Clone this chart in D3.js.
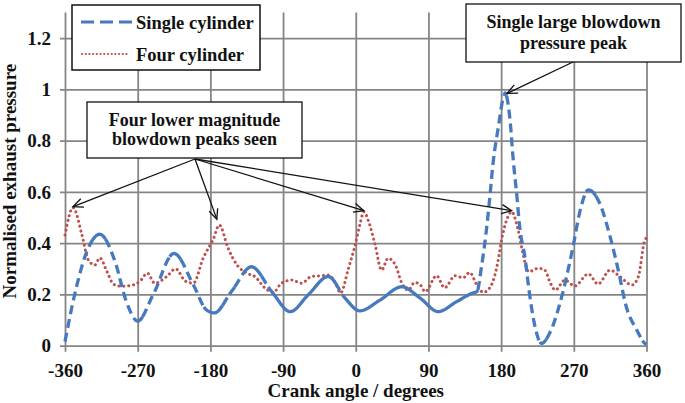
<!DOCTYPE html>
<html><head><meta charset="utf-8">
<script src="https://cdn.jsdelivr.net/npm/d3@7"></script>
<style>
html,body{margin:0;padding:0;background:#fff;}
svg text{font-family:"Liberation Serif","Times New Roman",serif;font-weight:bold;fill:#111;}
</style></head>
<body>
<svg id="chart" width="685" height="403"></svg>
<script>
// ---- data ----
const xTicks = [-360,-270,-180,-90,0,90,180,270,360];
const yTicks = [0,0.2,0.4,0.6,0.8,1,1.2];
const xTitle = "Crank angle / degrees";
const yTitle = "Normalised exhaust pressure";
const seriesNames = ["Single cylinder","Four cylinder"];

const singleAngle = [-360,-348,-333,-317,-298,-284,-270,-251,-225,-201,-185,-175,-154,-129,-104,-81,-59,-34,-13,5,30,57,80,102,125,146,150,156,162,166,170,176,185,191,195,199,203,210,214,222,230,241,255,269,278,288,302,315,325,335,348,358,360];
const singleValue = [0.016,0.2,0.367,0.435,0.328,0.172,0.096,0.198,0.36,0.237,0.14,0.128,0.211,0.308,0.211,0.133,0.198,0.27,0.185,0.136,0.178,0.23,0.185,0.133,0.172,0.207,0.211,0.315,0.458,0.58,0.712,0.842,0.985,0.881,0.725,0.6,0.464,0.334,0.23,0.074,0.009,0.055,0.191,0.386,0.53,0.608,0.556,0.425,0.295,0.152,0.061,0.009,0.005];

const fourAngle = [-360,-350,-339,-331,-323,-317,-308,-300,-290,-280,-267,-258,-249,-234,-223,-211,-201,-189,-176,-169,-158,-147,-135,-125,-112,-102,-92,-79,-67,-55,-44,-34,-24,-19,-9,-1,5,10,16,24,32,40,49,57,65,73,80,86,100,110,123,133,141,150,158,168,176,181,188,193,201,207,214,226,234,241,247,259,271,288,300,315,327,342,350,358,360];
const fourValue = [0.432,0.539,0.432,0.334,0.315,0.343,0.289,0.24,0.232,0.234,0.252,0.283,0.244,0.27,0.3,0.252,0.244,0.341,0.419,0.471,0.38,0.315,0.283,0.27,0.224,0.208,0.244,0.256,0.244,0.27,0.273,0.276,0.237,0.205,0.302,0.39,0.471,0.523,0.484,0.393,0.295,0.341,0.315,0.244,0.217,0.247,0.237,0.211,0.273,0.226,0.273,0.265,0.286,0.237,0.208,0.237,0.328,0.42,0.5,0.523,0.452,0.36,0.289,0.302,0.295,0.244,0.217,0.256,0.233,0.28,0.241,0.295,0.27,0.237,0.27,0.413,0.42];

const note1Lines = ["Four lower magnitude","blowdown peaks seen"];
const note1Targets = [[-350,0.539],[-172,0.49],[10,0.523],[193,0.523]];
const note2Lines = ["Single large blowdown","pressure peak"];
const note2Target = [185,0.985];

// ---- drawing ----
const svg = d3.select("#chart");
const L = 65, R = 646.5, T = 12.6, B = 345.7;
const x = d3.scaleLinear().domain([-360,360]).range([L,R]);
const y = d3.scaleLinear().domain([0,1.3]).range([B,T]);
const gridColor = "#858585";

// x axis with gridlines
const xAxis = svg.append("g").attr("transform",`translate(0,${B+6})`)
  .call(d3.axisBottom(x).tickValues(xTicks).tickSizeInner(-(B+6-T)).tickSizeOuter(0).tickPadding(11.5).tickFormat(d=>String(d)));
xAxis.select(".domain").remove();
xAxis.selectAll(".tick line").attr("stroke",gridColor).attr("stroke-width",1.8);
xAxis.selectAll(".tick text").attr("font-size",19).style("font-family",'"Liberation Serif",serif').style("font-weight","bold");

// y axis with gridlines
const yAxis = svg.append("g").attr("transform",`translate(${L-5},0)`)
  .call(d3.axisLeft(y).tickValues(yTicks).tickSizeInner(-(R-L+5)).tickSizeOuter(0).tickPadding(9).tickFormat(d=>String(d)));
yAxis.select(".domain").remove();
yAxis.selectAll(".tick line").attr("stroke",gridColor).attr("stroke-width",1.8);
yAxis.selectAll(".tick text").attr("font-size",19).style("font-family",'"Liberation Serif",serif').style("font-weight","bold");

// titles
svg.append("text").attr("x",(L+R)/2).attr("y",397).attr("text-anchor","middle").attr("font-size",19).text(xTitle);
svg.append("text").attr("transform",`translate(16,${(T+B)/2+2}) rotate(-90)`).attr("text-anchor","middle").attr("font-size",19).text(yTitle);

const blue = "#4679bd", red = "#c0504d";

// four cylinder (dotted)
const fourData = fourAngle.map((a,i)=>[a,fourValue[i]]);
const line = d3.line().x(d=>x(d[0])).y(d=>y(d[1])).curve(d3.curveMonotoneX);
svg.append("path").attr("d",line(fourData)).attr("fill","none").attr("stroke",red)
  .attr("stroke-width",3).attr("stroke-dasharray","0.1,4.8").attr("stroke-linecap","round");

// single cylinder: solid on shallow slopes, dashed on steep slopes
const singleData = singleAngle.map((a,i)=>[a,singleValue[i]]);
const tmp = svg.append("path").attr("d",line(singleData)).attr("fill","none").attr("stroke","none");
const node = tmp.node();
const total = node.getTotalLength();
const pts = [];
for (let s=0; s<=total; s+=1) { const p=node.getPointAtLength(s); pts.push([p.x,p.y]); }
const lp = node.getPointAtLength(total); pts.push([lp.x,lp.y]);
tmp.remove();
const steep = pts.map((p,i)=>{
  const a = pts[Math.max(0,i-3)], b = pts[Math.min(pts.length-1,i+3)];
  const dx = Math.abs(b[0]-a[0]), dy = Math.abs(b[1]-a[1]);
  return dy > 1.5*dx;
});
let runs = [], cur = {steep:steep[0], pts:[pts[0]]};
for (let i=1;i<pts.length;i++){
  if (steep[i]===cur.steep) cur.pts.push(pts[i]);
  else { cur.pts.push(pts[i]); runs.push(cur); cur={steep:steep[i], pts:[pts[i]]}; }
}
runs.push(cur);
const poly = d3.line();
runs.forEach(r=>{
  if (r.pts.length<2) return;
  svg.append("path").attr("d",poly(r.pts)).attr("fill","none").attr("stroke",blue)
    .attr("stroke-width",3.3).attr("stroke-dasharray", r.steep ? "9,5" : null);
});

// arrow marker
svg.append("defs").append("marker").attr("id","arr").attr("markerUnits","userSpaceOnUse")
  .attr("markerWidth",14).attr("markerHeight",14).attr("refX",0).attr("refY",0)
  .attr("viewBox","-12 -7 14 14").attr("orient","auto")
  .append("path").attr("d","M-10,-4.5 L0,0 L-10,4.5").attr("fill","none").attr("stroke","#111").attr("stroke-width",1.3);

// legend
const lg = svg.append("g");
lg.append("rect").attr("x",72).attr("y",5).attr("width",188).attr("height",65).attr("fill","#fff").attr("stroke","#111").attr("stroke-width",1.5);
lg.append("line").attr("x1",81).attr("x2",133).attr("y1",22).attr("y2",22).attr("stroke",blue).attr("stroke-width",3).attr("stroke-dasharray","13,6");
lg.append("line").attr("x1",82).attr("x2",128).attr("y1",54).attr("y2",54).attr("stroke",red).attr("stroke-width",2.2).attr("stroke-dasharray","0.1,3.6").attr("stroke-linecap","round");
lg.append("text").attr("x",136).attr("y",29).attr("font-size",18.5).text(seriesNames[0]);
lg.append("text").attr("x",136).attr("y",61).attr("font-size",18.5).text(seriesNames[1]);

// annotation 1
const n1 = {x:87,y:102,w:215,h:56};
svg.append("rect").attr("x",n1.x).attr("y",n1.y).attr("width",n1.w).attr("height",n1.h).attr("fill","#fff").attr("stroke","#111").attr("stroke-width",1.3);
note1Lines.forEach((t,i)=>svg.append("text").attr("x",n1.x+n1.w/2).attr("y",126+i*19).attr("text-anchor","middle").attr("font-size",18).text(t));
note1Targets.forEach(t=>{
  svg.append("line").attr("x1",195).attr("y1",n1.y+n1.h+1).attr("x2",x(t[0])).attr("y2",y(t[1])-1)
    .attr("stroke","#111").attr("stroke-width",1.3).attr("marker-end","url(#arr)");
});

// annotation 2
const n2 = {x:466,y:4,w:215,h:58};
svg.append("rect").attr("x",n2.x).attr("y",n2.y).attr("width",n2.w).attr("height",n2.h).attr("fill","#fff").attr("stroke","#111").attr("stroke-width",1.3);
note2Lines.forEach((t,i)=>svg.append("text").attr("x",n2.x+n2.w/2).attr("y",28+i*21).attr("text-anchor","middle").attr("font-size",18).text(t));
svg.append("line").attr("x1",573).attr("y1",n2.y+n2.h).attr("x2",x(note2Target[0])+2).attr("y2",y(note2Target[1]))
  .attr("stroke","#111").attr("stroke-width",1.3).attr("marker-end","url(#arr)");
</script>
</body></html>
